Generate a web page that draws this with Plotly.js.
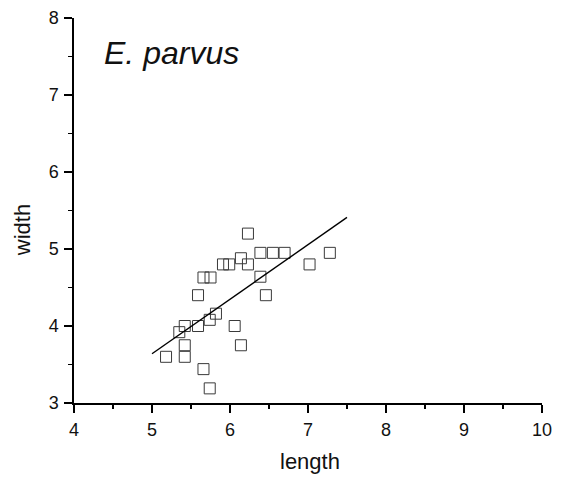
<!DOCTYPE html>
<html>
<head>
<meta charset="utf-8">
<script src="https://cdn.plot.ly/plotly-3.0.1.min.js"></script>
<style>html,body{margin:0;padding:0;background:#fff;}#chart{width:561px;height:483px;}</style>
</head>
<body>
<div id="chart"></div>
<script>
const lengthVals = [5.18, 5.35, 5.42, 5.42, 5.42, 5.59, 5.59, 5.66, 5.75, 5.66, 5.74, 5.74, 5.82, 5.91, 5.99, 6.06, 6.14, 6.14, 6.23, 6.23, 6.39, 6.39, 6.46, 6.55, 6.70, 7.02, 7.28];
const widthVals  = [3.60, 3.92, 4.00, 3.75, 3.60, 4.40, 4.00, 4.63, 4.63, 3.44, 3.19, 4.08, 4.16, 4.80, 4.80, 4.00, 4.88, 3.75, 5.20, 4.80, 4.95, 4.64, 4.40, 4.95, 4.95, 4.80, 4.95];
const fitX = [5.0, 7.5];
const fitY = [3.64, 5.41];
const xTicks = [4, 5, 6, 7, 8, 9, 10];
const yTicks = [3, 4, 5, 6, 7, 8];
const speciesLabel = "E. parvus";
const xTitle = "length";
const yTitle = "width";

const font = "Liberation Sans, Arial, sans-serif";
const data = [
  {x: lengthVals, y: widthVals, type: 'scatter', mode: 'markers',
   marker: {symbol: 'square-open', size: 11, color: '#3a3a3a', line: {width: 1}}},
  {x: fitX, y: fitY, type: 'scatter', mode: 'lines', line: {color: '#000', width: 1.4}}
];
const axisCommon = {
  ticks: 'outside', ticklen: 8, tickwidth: 1.6, tickcolor: '#000',
  showline: true, linecolor: '#000', linewidth: 1.6, showgrid: false, zeroline: false,
  tickfont: {size: 18, color: '#111'},
  minor: {dtick: 0.5, ticks: 'outside', ticklen: 4, tickwidth: 1.2, tickcolor: '#000'},
  title: {text: ''}
};
const layout = {
  width: 561, height: 483,
  margin: {l: 74, r: 19, t: 18, b: 80},
  paper_bgcolor: '#fff', plot_bgcolor: '#fff',
  showlegend: false,
  font: {family: font, color: '#000', size: 18},
  xaxis: Object.assign({range: [4, 10], tickvals: xTicks, ticklabelstandoff: 2}, axisCommon),
  yaxis: Object.assign({range: [3, 8], tickvals: yTicks, ticklabelstandoff: 2}, axisCommon),
  annotations: [
    {x: 4.36, y: 7.55, xref: 'x', yref: 'y', text: speciesLabel, showarrow: false, xanchor: 'left', yanchor: 'middle',
     font: {size: 32, family: font, style: 'italic', color: '#111'}},
    {x: 0.504, y: -0.153, xref: 'paper', yref: 'paper', text: xTitle, showarrow: false,
     xanchor: 'center', yanchor: 'middle', font: {size: 22, color: '#111'}},
    {x: -0.111, y: 0.449, xref: 'paper', yref: 'paper', text: yTitle, textangle: -90, showarrow: false,
     xanchor: 'center', yanchor: 'middle', font: {size: 22, color: '#111'}}
  ]
};
Plotly.newPlot('chart', data, layout, {displayModeBar: false, staticPlot: true});
</script>
</body>
</html>
